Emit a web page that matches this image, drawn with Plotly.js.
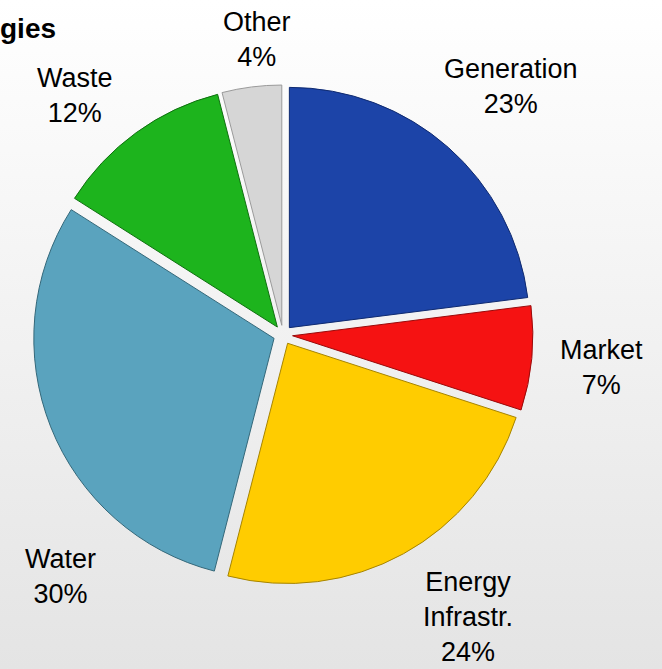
<!DOCTYPE html>
<html><head><meta charset="utf-8">
<script src="https://cdn.plot.ly/plotly-3.0.1.min.js"></script>
<style>
html,body{margin:0;padding:0;}
body{width:662px;height:669px;background:linear-gradient(#ffffff,#e4e4e4);}
#chart{width:662px;height:669px;}
</style></head><body>
<div id="chart"></div>
<script>
const categories = ["Generation", "Market", "Energy<br>Infrastr.", "Water", "Waste", "Other"];
const shares = [23, 7, 24, 30, 12, 4];
const colors = ["#1c44a8", "#f51212", "#ffcc00", "#5aa3be", "#1db41d", "#d6d6d6"];
const edgeColors = ["#0f2a70", "#9a0a0a", "#a68400", "#34687a", "#0f700f", "#9a9a9a"];
const titleText = "gies";
// label anchor positions (paper fractions) for the outside labels
const labelX = [0.772, 0.908, 0.707, 0.092, 0.113, 0.388];
const labelY = [0.871, 0.450, 0.078, 0.138, 0.857, 0.941];

const FONT = "Liberation Sans, Arial, sans-serif";
const total = shares.reduce((a, b) => a + b, 0);

const trace = {
  type: "pie",
  labels: categories,
  values: shares,
  sort: false,
  direction: "clockwise",
  rotation: 0,
  pull: 0.04,
  marker: {colors: colors, line: {color: edgeColors, width: 1}},
  textinfo: "none",
  hoverinfo: "label+percent",
  domain: {x: [0.05, 0.805], y: [0.126, 0.873]},
  automargin: false
};

const annotations = categories.map((c, i) => ({
  xref: "paper", yref: "paper",
  x: labelX[i], y: labelY[i],
  xanchor: "center", yanchor: "middle",
  text: c + "<br>" + Math.round(shares[i] / total * 100) + "%",
  showarrow: false,
  font: {family: FONT, size: 27, color: "#000"}
}));

const layout = {
  width: 662, height: 669,
  margin: {l: 0, r: 0, t: 0, b: 0},
  paper_bgcolor: "rgba(0,0,0,0)",
  plot_bgcolor: "rgba(0,0,0,0)",
  showlegend: false,
  annotations: annotations,
  title: {text: "<b>" + titleText + "</b>", x: 0, xanchor: "left", y: 0.958, yanchor: "middle",
          font: {family: FONT, size: 28, color: "#000"}}
};
Plotly.newPlot("chart", [trace], layout, {displayModeBar: false, staticPlot: true});
</script></body></html>
